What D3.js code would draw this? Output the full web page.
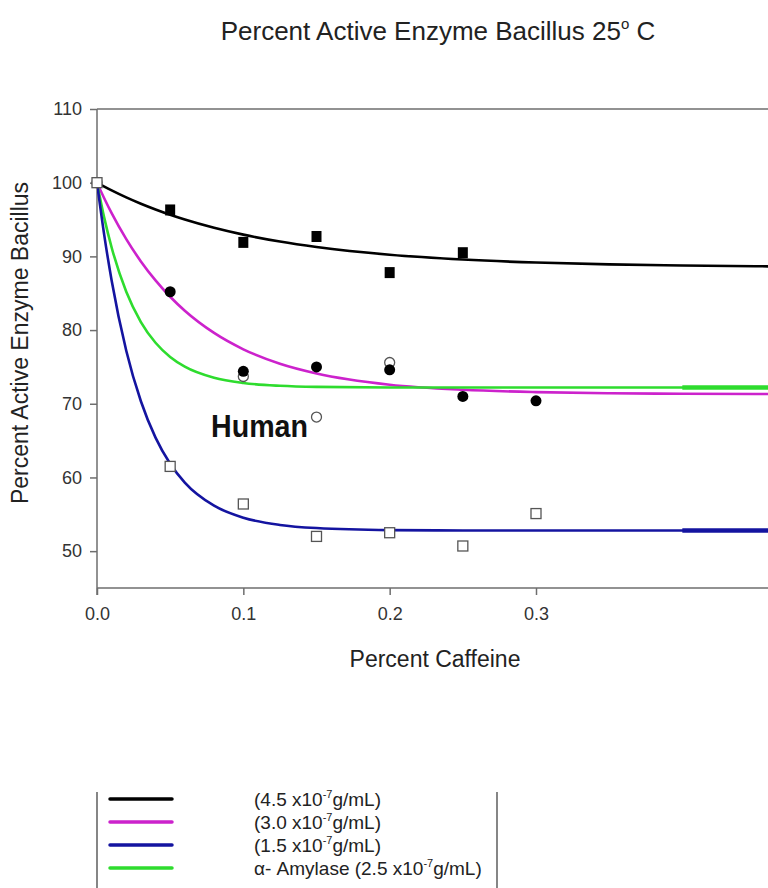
<!DOCTYPE html>
<html>
<head>
<meta charset="utf-8">
<script src="https://cdnjs.cloudflare.com/ajax/libs/d3/7.8.5/d3.min.js"></script>
<style>
  body { margin: 0; background: #fff; }
  svg { display: block; font-family: "Liberation Sans", Arial, sans-serif; }
</style>
</head>
<body>
<svg id="chart" width="768" height="888"></svg>
<script>
// measured points
var caffeine = [0, 0.05, 0.1, 0.15, 0.2, 0.25, 0.3];
var bac45 = [100, 96.3, 91.9, 92.7, 87.8, 90.5, null];
var bac30 = [null, 85.2, 74.4, 75.0, 74.6, 71.0, 70.4];
var bac15 = [100, 61.5, 56.4, 52.0, 52.5, 50.7, 55.1];
var amylase = [100, null, 73.7, 68.2, 75.6, null, null];

// fitted curves
var fitX = [0, 0.005, 0.01, 0.02, 0.03, 0.04, 0.05, 0.06, 0.08, 0.1, 0.125, 0.15, 0.2, 0.25, 0.3, 0.35, 0.4, 0.45, 0.5];
var fit45 = [100, 99.47, 98.96, 98.01, 97.15, 96.37, 95.65, 95.0, 93.88, 92.95, 92.01, 91.27, 90.22, 89.57, 89.16, 88.91, 88.76, 88.66, 88.6];
var fit30 = [100, 97.86, 95.87, 92.35, 89.32, 86.74, 84.52, 82.62, 79.61, 77.39, 75.43, 74.11, 72.59, 71.9, 71.58, 71.43, 71.36, 71.33, 71.31];
var fit15 = [100, 92.82, 86.74, 77.2, 70.34, 65.4, 61.86, 59.31, 56.17, 54.54, 53.56, 53.14, 52.86, 52.81, 52.8, 52.8, 52.8, 52.8, 52.8];
var fitAmy = [100, 95.19, 91.21, 85.2, 81.09, 78.28, 76.36, 75.04, 73.53, 72.82, 72.44, 72.29, 72.21, 72.2, 72.2, 72.2, 72.2, 72.2, 72.2];

var xTicks = [0, 0.1, 0.2, 0.3];
var yTicks = [50, 60, 70, 80, 90, 100, 110];

var legendLabels = ["(4.5 x10", "(3.0 x10", "(1.5 x10", "\u03b1- Amylase (2.5 x10"];
var colors = ["#000000", "#cc22cc", "#1414a0", "#2edc2e"];

var svg = d3.select("#chart");
var axisColor = "#6e6e6e";

var x = d3.scaleLinear().domain([0, 0.3]).range([97, 536]);
var y = d3.scaleLinear().domain([45, 110]).range([588, 109]);

svg.append("defs").append("clipPath").attr("id", "plotClip")
    .append("rect").attr("x", 97).attr("y", 100).attr("width", 671).attr("height", 488);

// title
var title = svg.append("text")
    .attr("x", 438).attr("y", 40)
    .attr("text-anchor", "middle")
    .attr("font-size", 26).attr("fill", "#222");
title.append("tspan").text("Percent Active Enzyme Bacillus 25");
title.append("tspan").attr("font-size", 15).attr("dy", -11).text("o");
title.append("tspan").attr("dy", 11).text(" C");

// frame top line
svg.append("line")
    .attr("x1", 97).attr("x2", 768).attr("y1", 109).attr("y2", 109)
    .attr("stroke", axisColor).attr("stroke-width", 1.5);

// axes
var yAxis = svg.append("g").attr("transform", "translate(97,0)")
    .call(d3.axisLeft(y).tickValues(yTicks).tickSize(7).tickPadding(8).tickFormat(d3.format("d")));
var xAxis = svg.append("g").attr("transform", "translate(0,588)")
    .call(d3.axisBottom(x).tickValues(xTicks).tickSize(7).tickPadding(12).tickFormat(d3.format(".1f")));

[xAxis, yAxis].forEach(function (a) {
    a.select(".domain").remove();
    a.selectAll("line").attr("stroke", axisColor).attr("stroke-width", 1.5);
    a.selectAll("text").attr("font-size", 18).attr("fill", "#333")
        .attr("font-family", "Liberation Sans, Arial, sans-serif");
});

svg.append("line").attr("x1", 97).attr("x2", 97).attr("y1", 109).attr("y2", 595)
    .attr("stroke", axisColor).attr("stroke-width", 1.5);
svg.append("line").attr("x1", 97).attr("x2", 768).attr("y1", 588).attr("y2", 588)
    .attr("stroke", axisColor).attr("stroke-width", 1.5);

// axis labels
svg.append("text")
    .attr("x", 435).attr("y", 667)
    .attr("text-anchor", "middle")
    .attr("font-size", 23).attr("fill", "#222")
    .text("Percent Caffeine");

svg.append("text")
    .attr("transform", "translate(28,343) rotate(-90)")
    .attr("text-anchor", "middle")
    .attr("font-size", 23).attr("fill", "#222")
    .text("Percent Active Enzyme Bacillus");

// curves
var plot = svg.append("g").attr("clip-path", "url(#plotClip)");
var line = d3.line()
    .x(function (d) { return x(d[0]); })
    .y(function (d) { return y(d[1]); })
    .curve(d3.curveMonotoneX);

var fits = [fit45, fit30, fit15, fitAmy];
// draw magenta, then green, blue, black
[1, 3, 2, 0].forEach(function (i) {
    plot.append("path")
        .datum(fitX.map(function (v, j) { return [v, fits[i][j]]; }))
        .attr("fill", "none")
        .attr("stroke", colors[i])
        .attr("stroke-width", 2.6)
        .attr("d", line);
});

// thicker tail segments seen in the picture
plot.append("path")
    .datum(fitX.map(function (v, j) { return [v, fitAmy[j]]; }).filter(function (d) { return d[0] >= 0.36; }))
    .attr("fill", "none").attr("stroke", colors[3]).attr("stroke-width", 4.5).attr("d", line);
plot.append("path")
    .datum(fitX.map(function (v, j) { return [v, fit15[j]]; }).filter(function (d) { return d[0] >= 0.4; }))
    .attr("fill", "none").attr("stroke", colors[2]).attr("stroke-width", 4.5).attr("d", line);

// markers
function pts(arr) {
    return caffeine.map(function (c, i) { return [c, arr[i]]; })
        .filter(function (d) { return d[1] != null; });
}

var markers = svg.append("g");

markers.selectAll(".amy").data(pts(amylase)).enter().append("circle")
    .attr("cx", function (d) { return x(d[0]); })
    .attr("cy", function (d) { return y(d[1]); })
    .attr("r", 5)
    .attr("fill", "#fff").attr("stroke", "#555").attr("stroke-width", 1.3);

markers.selectAll(".b15").data(pts(bac15)).enter().append("rect")
    .attr("x", function (d) { return x(d[0]) - 5; })
    .attr("y", function (d) { return y(d[1]) - 5; })
    .attr("width", 10).attr("height", 10)
    .attr("fill", "#fff").attr("stroke", "#555").attr("stroke-width", 1.3);

markers.selectAll(".b30").data(pts(bac30)).enter().append("circle")
    .attr("cx", function (d) { return x(d[0]); })
    .attr("cy", function (d) { return y(d[1]); })
    .attr("r", 5.5)
    .attr("fill", "#000");

markers.selectAll(".b45").data(pts(bac45).filter(function (d) { return d[0] > 0; })).enter().append("rect")
    .attr("x", function (d) { return x(d[0]) - 5; })
    .attr("y", function (d) { return y(d[1]) - 5.5; })
    .attr("width", 10).attr("height", 11)
    .attr("fill", "#000");

// label
svg.append("text")
    .attr("x", 211).attr("y", 437)
    .attr("font-size", 31).attr("font-weight", "bold")
    .attr("fill", "#111")
    .attr("textLength", 97).attr("lengthAdjust", "spacingAndGlyphs")
    .text("Human");

// legend
var legend = svg.append("g");
legend.append("line").attr("x1", 97).attr("x2", 97).attr("y1", 792).attr("y2", 888)
    .attr("stroke", "#444").attr("stroke-width", 1.3);
legend.append("line").attr("x1", 497).attr("x2", 497).attr("y1", 792).attr("y2", 888)
    .attr("stroke", "#444").attr("stroke-width", 1.3);

var rowY = d3.scaleLinear().domain([0, 3]).range([799, 868]);
legendLabels.forEach(function (lab, i) {
    legend.append("line")
        .attr("x1", 110).attr("x2", 172)
        .attr("y1", rowY(i)).attr("y2", rowY(i))
        .attr("stroke", colors[i]).attr("stroke-width", 3.5)
        .attr("stroke-linecap", "round");
    var t = legend.append("text")
        .attr("x", 254).attr("y", rowY(i) + 7)
        .attr("font-size", 19).attr("fill", "#222");
    t.append("tspan").text(lab);
    t.append("tspan").attr("font-size", 11).attr("dy", -8).text("-7");
    t.append("tspan").attr("dy", 8).text("g/mL)");
});
</script>
</body>
</html>
